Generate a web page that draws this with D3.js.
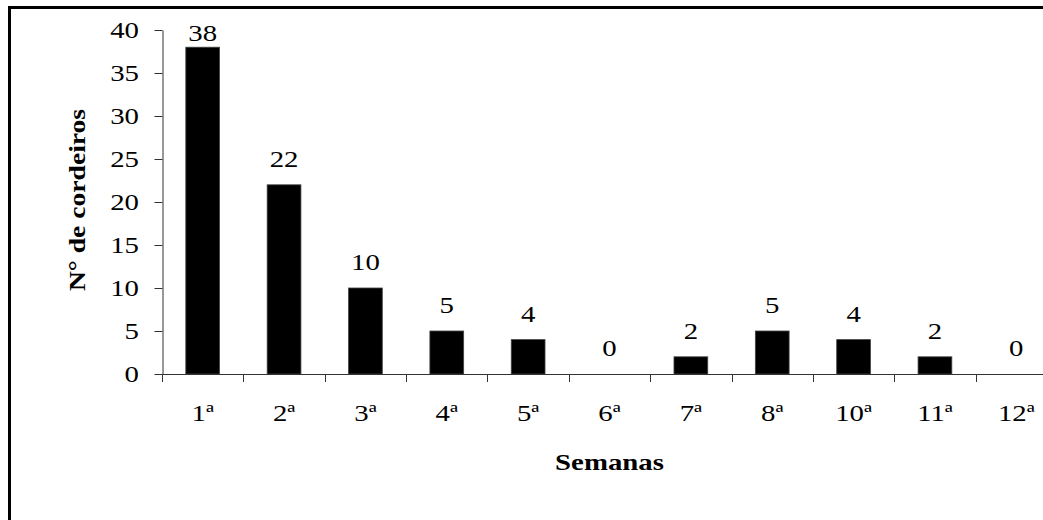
<!DOCTYPE html>
<html>
<head>
<meta charset="utf-8">
<script src="https://cdn.jsdelivr.net/npm/d3@7"></script>
<style>
  html, body { margin: 0; padding: 0; background: #fff; }
  svg { display: block; }
  text { font-family: "Liberation Serif", "Times New Roman", serif; fill: #000; }
</style>
</head>
<body>
<svg id="chart" width="1043" height="520"></svg>
<script>
// Weeks (9ª is absent in the record) and number of lambs per week
const semanas = ["1ª", "2ª", "3ª", "4ª", "5ª", "6ª", "7ª", "8ª", "10ª", "11ª", "12ª"];
const cordeiros = [38, 22, 10, 5, 4, 0, 2, 5, 4, 2, 0];
const yTicks = [0, 5, 10, 15, 20, 25, 30, 35, 40];

const FONT = 24, WIDEN = 1.2;
const svg = d3.select("#chart");

// text widened horizontally, as in the pasted chart
function label(g, px, py, str, opts = {}) {
  const t = g.append("text")
    .attr("transform", `translate(${px},${py})${opts.rotate ? " rotate(-90)" : ""} scale(${opts.widen || WIDEN},1)`)
    .attr("text-anchor", opts.anchor || "middle")
    .attr("font-size", FONT)
    .text(str);
  if (opts.bold) t.attr("font-weight", "bold");
  if (opts.dy) t.attr("dy", opts.dy);
  return t;
}

// outer frame
svg.append("rect")
  .attr("x", 9.5).attr("y", 7.5)
  .attr("width", 1100).attr("height", 600)
  .attr("fill", "none").attr("stroke", "#000").attr("stroke-width", 3);

const x0 = 162, x1 = 1057, yTop = 30, yBase = 374;

const x = d3.scaleBand().domain(semanas).range([x0, x1]).paddingInner(0.585).paddingOuter(0.2925);
const y = d3.scaleLinear().domain([0, 40]).range([yBase, yTop]);

// y axis (lines from d3, labels drawn widened)
const yAxis = svg.append("g")
  .attr("transform", `translate(${x0 + 0.5},0)`)
  .call(d3.axisLeft(y).tickValues(yTicks).tickSize(8).tickSizeOuter(0).tickFormat(""));
yAxis.select(".domain").attr("stroke", "#333");
yAxis.selectAll(".tick line").attr("stroke", "#333");
const yLab = svg.append("g");
yTicks.forEach(v => label(yLab, 139, y(v), String(v), { anchor: "end", dy: "0.34em" }));

// bars
svg.append("g").selectAll("rect")
  .data(semanas.map((s, i) => ({ s, v: cordeiros[i] })))
  .join("rect")
  .attr("x", d => x(d.s))
  .attr("width", x.bandwidth())
  .attr("y", d => y(d.v))
  .attr("height", d => yBase - y(d.v))
  .attr("fill", "#000")
  .attr("stroke", "#444").attr("stroke-width", 0.8);

// x axis: baseline with ticks at category boundaries
const xg = svg.append("g");
xg.append("line")
  .attr("x1", x0).attr("x2", x1)
  .attr("y1", yBase + 0.5).attr("y2", yBase + 0.5)
  .attr("stroke", "#333");
const step = x.step();
const bounds = d3.range(semanas.length + 1).map(i => x0 + i * step);
xg.selectAll("line.tk").data(bounds).join("line")
  .attr("class", "tk")
  .attr("x1", d => Math.round(d) + 0.5).attr("x2", d => Math.round(d) + 0.5)
  .attr("y1", yBase).attr("y2", yBase + 8)
  .attr("stroke", "#333");
semanas.forEach(s => label(xg, x(s) + x.bandwidth() / 2, 421, s));

// value labels above bars
const vg = svg.append("g");
semanas.forEach((s, i) => {
  const v = cordeiros[i];
  label(vg, x(s) + x.bandwidth() / 2, Math.max(y(v) - 18, 41), String(v));
});

// axis titles
label(svg, (x0 + x1) / 2, 470, "Semanas", { bold: true });
label(svg, 85, 200, "N° de cordeiros", { bold: true, rotate: true, widen: 1.15 });
</script>
</body>
</html>
